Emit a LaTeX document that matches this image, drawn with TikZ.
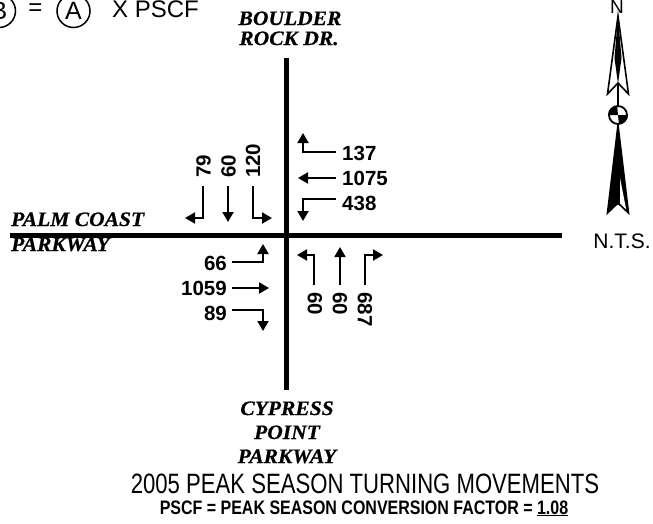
\documentclass[tikz,border=0pt]{standalone}
\usepackage{graphicx}
\usepackage{fontspec}
\setmainfont{Liberation Sans}
\newfontfamily\roadfont[FakeStretch=1.05, BoldItalicFeatures={FakeBold=0.6}]{Liberation Serif}
\usetikzlibrary{arrows.meta}
\tikzset{
  road/.style={line width=5pt},
  mv/.style={line width=2pt, line join=miter, -{Triangle[length=10pt,width=11pt]}},
  num/.style={font=\fontsize{20.5}{24}\selectfont\bfseries, inner sep=0pt},
  rname/.style={font=\fontsize{20.5}{24}\selectfont\roadfont\bfseries\itshape, inner sep=0pt, anchor=base},
  sans/.style={inner sep=0pt},
  ring/.style={circle, draw, line width=1.5pt, minimum size=33pt, inner sep=0pt, font=\fontsize{25}{28}\selectfont},
}
\begin{document}
\begin{tikzpicture}[x=1pt,y=-1pt]
\clip (0,0) rectangle (653,523);
\fill[white] (0,0) rectangle (653,523);

% formula at top left
\node[ring] (cB) at (-1,11) {B};
\node[sans, anchor=base, font=\fontsize{24}{28}\selectfont] (eq) at (35.5,15) {=};
\node[ring] (cA) at (73.5,11) {A};
\node[sans, anchor=base west, font=\fontsize{24}{28}\selectfont] (pscf) at (112,17) {X PSCF};

% roads
\coordinate (nN) at (286,58);
\coordinate (nS) at (286,390);
\coordinate (wW) at (10,235);
\coordinate (wE) at (562,235);
\draw[road] (nN) -- (nS);
\draw[road] (wW) -- (wE);

% road names
\node[rname] (bo1) at (290,25) {BOULDER};
\node[rname] (bo2) at (289,45) {ROCK DR.};
\node[rname, anchor=base west] (pc1) at (11,226) {PALM COAST};
\node[rname, anchor=base west] (pc2) at (11,251) {PARKWAY};
\node[rname] (cy1) at (287,415) {CYPRESS};
\node[rname] (cy2) at (287,439) {POINT};
\node[rname] (cy3) at (287,463) {PARKWAY};

% north approach
\node[num, rotate=90, anchor=west] (n79) at (203.5,178) {79};
\node[num, rotate=90, anchor=west] (n60) at (228.5,178) {60};
\node[num, rotate=90, anchor=west] (n120) at (253,178) {120};
\coordinate (a1s) at (203,186); \coordinate (a1c) at (203,218); \coordinate (a1t) at (185,218);
\coordinate (a2s) at (228,186); \coordinate (a2t) at (228,222);
\coordinate (a3s) at (253,186); \coordinate (a3c) at (253,218); \coordinate (a3t) at (272,218);
\draw[mv] (a1s) -- (a1c) -- (a1t);
\draw[mv] (a2s) -- (a2t);
\draw[mv] (a3s) -- (a3c) -- (a3t);

% east approach
\node[num, anchor=west] (e137) at (342,153) {137};
\node[num, anchor=west] (e1075) at (342,178) {1075};
\node[num, anchor=west] (e438) at (342,203) {438};
\coordinate (b1s) at (336,152); \coordinate (b1c) at (303,152); \coordinate (b1t) at (303,133);
\coordinate (b2s) at (336,178); \coordinate (b2t) at (298,178);
\coordinate (b3s) at (336,199); \coordinate (b3c) at (303,199); \coordinate (b3t) at (303,221);
\draw[mv] (b1s) -- (b1c) -- (b1t);
\draw[mv] (b2s) -- (b2t);
\draw[mv] (b3s) -- (b3c) -- (b3t);

% west approach
\node[num, anchor=east] (w66) at (227,263) {66};
\node[num, anchor=east] (w1059) at (227,288) {1059};
\node[num, anchor=east] (w89) at (227,313) {89};
\coordinate (c1s) at (232,262); \coordinate (c1c) at (263,262); \coordinate (c1t) at (263,244);
\coordinate (c2s) at (232,288); \coordinate (c2t) at (269,288);
\coordinate (c3s) at (232,310); \coordinate (c3c) at (263,310); \coordinate (c3t) at (263,331);
\draw[mv] (c1s) -- (c1c) -- (c1t);
\draw[mv] (c2s) -- (c2t);
\draw[mv] (c3s) -- (c3c) -- (c3t);

% south approach
\node[num, rotate=-90, anchor=west] (s60a) at (315,292) {60};
\node[num, rotate=-90, anchor=west] (s60b) at (340,292) {60};
\node[num, rotate=-90, anchor=west] (s687) at (365,292) {687};
\coordinate (d1s) at (314,285); \coordinate (d1c) at (314,255); \coordinate (d1t) at (297,255);
\coordinate (d2s) at (340,285); \coordinate (d2t) at (340,247);
\coordinate (d3s) at (365,285); \coordinate (d3c) at (365,255); \coordinate (d3t) at (383,255);
\draw[mv] (d1s) -- (d1c) -- (d1t);
\draw[mv] (d2s) -- (d2t);
\draw[mv] (d3s) -- (d3c) -- (d3t);

% north arrow
\node[sans, anchor=base, font=\fontsize{19}{22}\selectfont] (nlab) at (617,13) {N};
\draw[line width=1.5pt] (618,16) -- (618,205);
\filldraw[fill=white, line width=1.6pt, line join=miter] (618,16) -- (628.5,94) -- (618,83) -- (607.5,94) -- cycle;
\fill (618,16) -- (621.5,58) -- (618,84) -- (614.5,58) -- cycle;
\filldraw[fill=black, line width=1.6pt, line join=miter] (618,125) -- (628.5,213) -- (618,203) -- (607.5,213) -- cycle;
\fill[white] (620,178) -- (626.2,209.5) -- (620,203.5) -- cycle;
\node[circle, draw, line width=1.8pt, minimum size=18pt, inner sep=0pt, fill=white] (comp) at (618,115) {};
\fill (comp.center) -- (comp.west) arc[start angle=180, end angle=90, radius=9pt] -- cycle;
\fill (comp.center) -- (comp.east) arc[start angle=0, end angle=-90, radius=9pt] -- cycle;
\node[sans, anchor=base, font=\fontsize{21}{24}\selectfont] (nts) at (622,248) {N.T.S.};

% titles
\node[sans, anchor=base] (title) at (365,493) {\scalebox{0.79}[1]{\fontsize{28}{30}\selectfont 2005 PEAK SEASON TURNING MOVEMENTS}};
\node[sans, anchor=base] (sub) at (364,514) {\scalebox{0.82}[1]{\fontsize{19.5}{24}\selectfont\bfseries PSCF = PEAK SEASON CONVERSION FACTOR = \underline{1.08}}};
\end{tikzpicture}
\end{document}
